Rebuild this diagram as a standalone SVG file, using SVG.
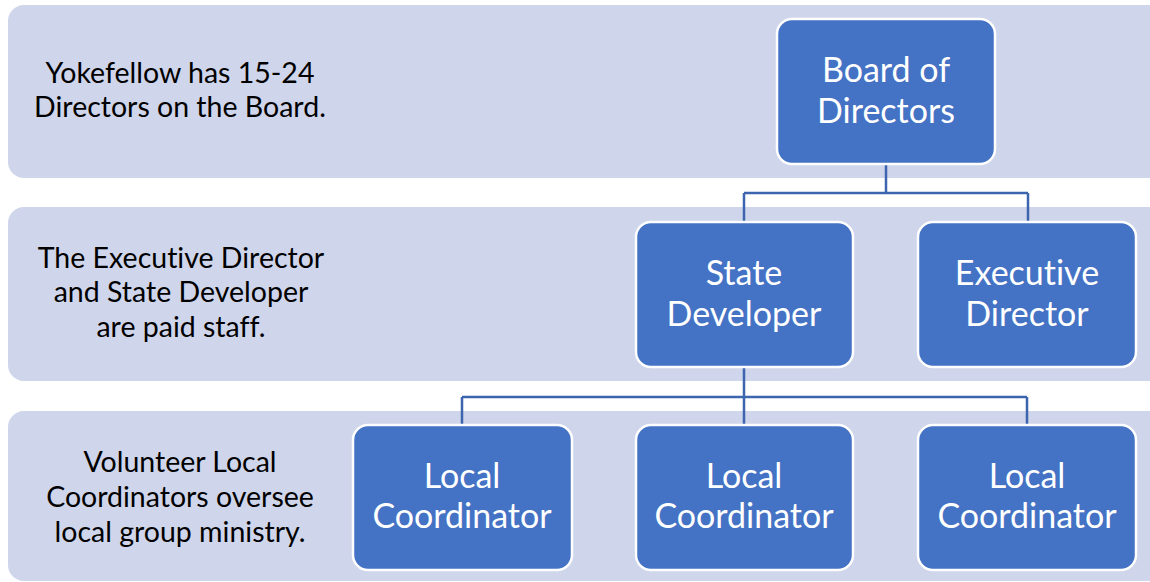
<svg xmlns="http://www.w3.org/2000/svg" width="1150" height="582" viewBox="0 0 1150 582">
<style>
.band{fill:#CFD5EA}
.node rect{fill:#4472C4;stroke:#FFFFFF;stroke-width:2.5}
.nt{font-family:Lato,"Liberation Sans",sans-serif;font-size:34px;fill:#FFFFFF;text-anchor:middle;font-variant-ligatures:none}
.bt{font-family:Lato,"Liberation Sans",sans-serif;font-size:28.5px;fill:#000000;text-anchor:middle;font-variant-ligatures:none}
.conn{fill:none;stroke:#3D64AE;stroke-width:2.5}
</style>
<rect width="1150" height="582" fill="#FFFFFF"/>
<g id="bands">
<rect class="band" x="8" y="5" width="1160" height="173" rx="16"/>
<rect class="band" x="8" y="207" width="1160" height="174" rx="16"/>
<rect class="band" x="8" y="411" width="1160" height="170" rx="16"/>
<text class="bt" x="180" y="83">Yokefellow has 15-24</text>
<text class="bt" x="180" y="117">Directors on the Board.</text>
<text class="bt" x="181" y="268">The Executive Director</text>
<text class="bt" x="181" y="302">and State Developer</text>
<text class="bt" x="181" y="337">are paid staff.</text>
<text class="bt" x="180" y="472">Volunteer Local</text>
<text class="bt" x="180" y="507">Coordinators oversee</text>
<text class="bt" x="180" y="542">local group ministry.</text>
</g>
<g id="connectors">
<path class="conn" d="M886 164 V193 M744 193 H1028 M744 193 V222 M1028 193 V222"/>
<path class="conn" d="M744 367 V397 M462 397 H1027 M462 397 V425 M744 397 V425 M1027 397 V425"/>
</g>
<g id="board" class="node">
<rect x="777" y="19" width="218" height="145" rx="15"/>
<text class="nt" x="886" y="82">Board of</text>
<text class="nt" x="886" y="123">Directors</text>
</g>
<g id="state-developer" class="node">
<rect x="636" y="222" width="217" height="145" rx="15"/>
<text class="nt" x="744" y="285">State</text>
<text class="nt" x="744" y="326">Developer</text>
</g>
<g id="executive-director" class="node">
<rect x="918" y="222" width="218" height="145" rx="15"/>
<text class="nt" x="1027" y="285">Executive</text>
<text class="nt" x="1027" y="326">Director</text>
</g>
<g id="local-1" class="node">
<rect x="353" y="425" width="219" height="145" rx="15"/>
<text class="nt" x="462" y="488">Local</text>
<text class="nt" x="462" y="528">Coordinator</text>
</g>
<g id="local-2" class="node">
<rect x="636" y="425" width="217" height="145" rx="15"/>
<text class="nt" x="744" y="488">Local</text>
<text class="nt" x="744" y="528">Coordinator</text>
</g>
<g id="local-3" class="node">
<rect x="918" y="425" width="218" height="145" rx="15"/>
<text class="nt" x="1027" y="488">Local</text>
<text class="nt" x="1027" y="528">Coordinator</text>
</g>
</svg>
